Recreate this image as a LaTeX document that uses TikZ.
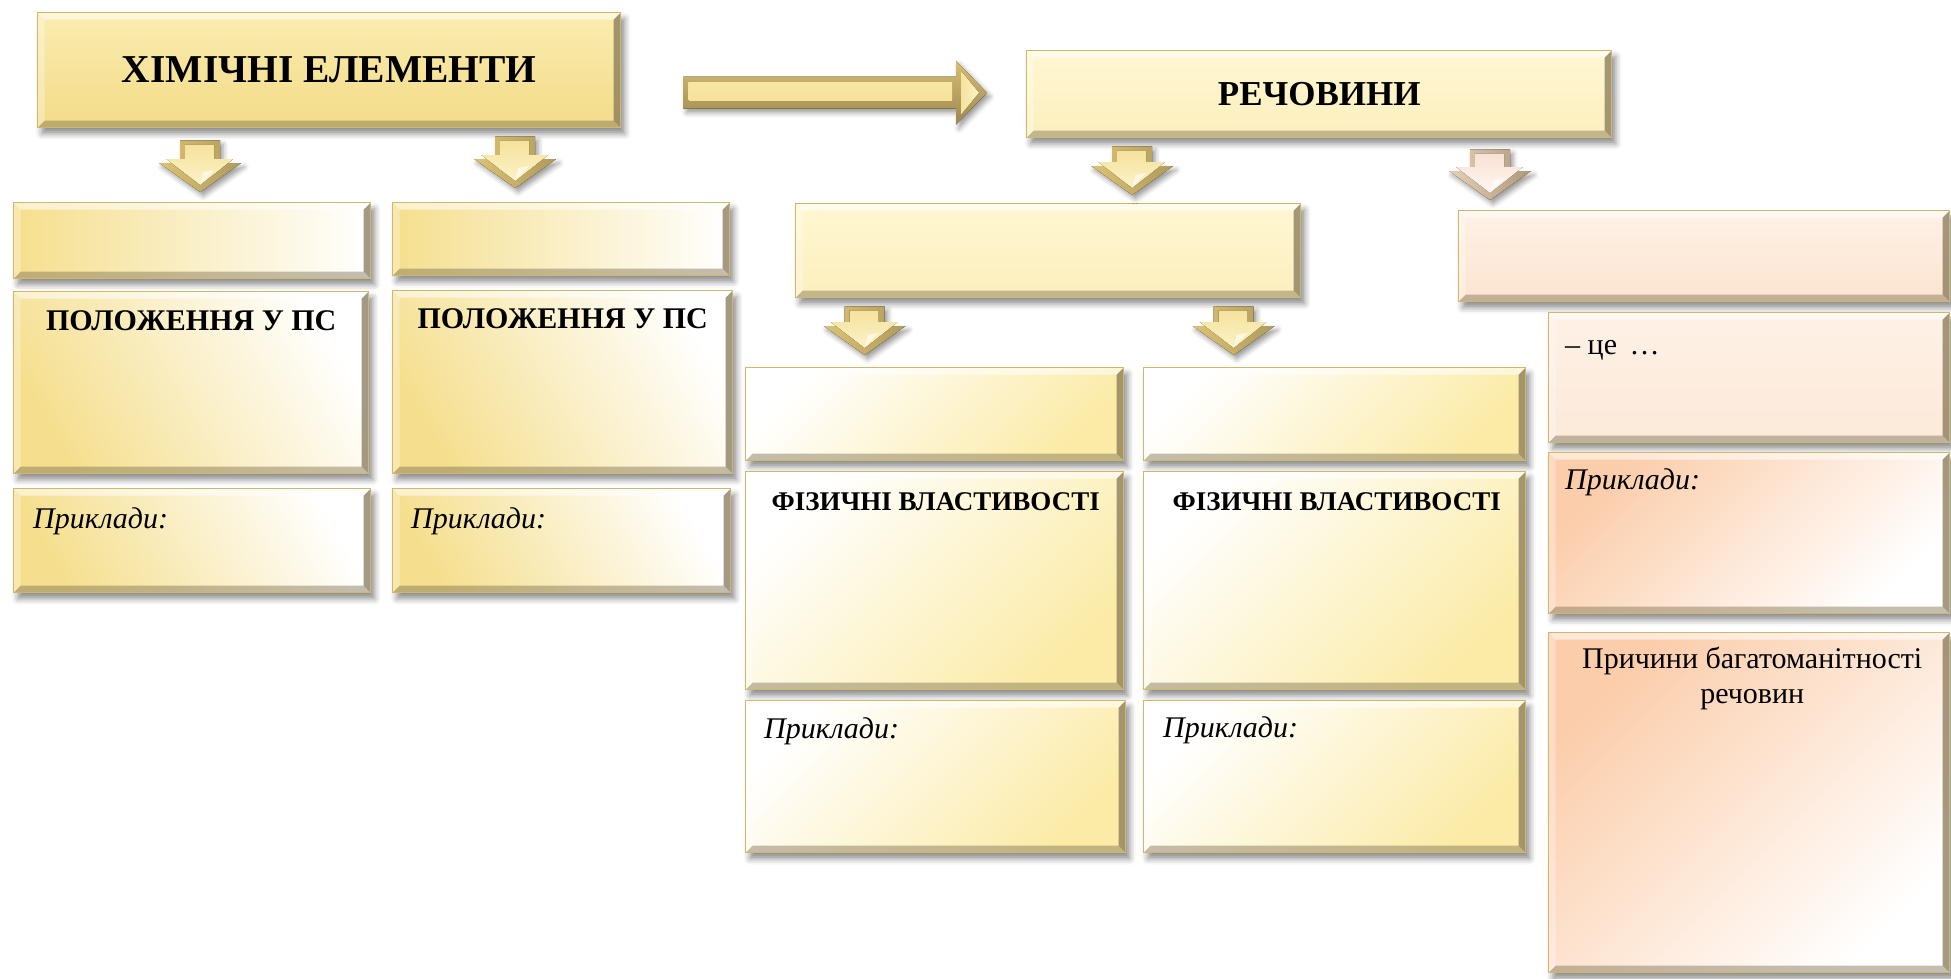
\documentclass[tikz,border=0pt]{standalone}
\usepackage{fontspec}
\setmainfont{Liberation Serif}
\usetikzlibrary{calc,shadows.blur}

\definecolor{gold}{HTML}{F5DF8E}
\definecolor{goldpale}{HTML}{FBEBA6}
\definecolor{xtop}{HTML}{FAEDB0}
\definecolor{xbot}{HTML}{F3DB88}
\definecolor{cream}{HTML}{FFF7D2}
\definecolor{creamdk}{HTML}{FCEFBE}
\definecolor{peach}{HTML}{FBCDAA}
\definecolor{peachlt}{HTML}{FEF1E6}
\definecolor{peachmd}{HTML}{FCE4D0}
\definecolor{peachf}{HTML}{FCE9D9}
\definecolor{edge}{HTML}{CFB76C}
\definecolor{bevdark}{HTML}{7E7050}
% arrow colours
\definecolor{rimA}{HTML}{DCC272}\definecolor{rimB}{HTML}{F4E097}\definecolor{rimC}{HTML}{B09A5C}
\definecolor{faceA}{HTML}{F5E29C}\definecolor{faceB}{HTML}{FCF2C8}
\definecolor{prA}{HTML}{E6D0B4}\definecolor{prB}{HTML}{F6E3D5}\definecolor{prC}{HTML}{AE9878}
\definecolor{pfA}{HTML}{F8E1D4}\definecolor{pfB}{HTML}{FFF7F1}
\definecolor{shA}{HTML}{D6BE74}\definecolor{shB}{HTML}{F8E6A4}\definecolor{shC}{HTML}{9E874E}

\tikzset{
  bevel/.style={path picture={
    \fill[white,opacity=.55] let \p1=(path picture bounding box.north west), \p2=(path picture bounding box.south east) in
      (\x1,\y1) -- (\x2,\y1) -- (\x2-7pt,\y1-7pt) -- (\x1+7pt,\y1-7pt) -- cycle;
    \fill[white,opacity=.3] let \p1=(path picture bounding box.north west), \p2=(path picture bounding box.south east) in
      (\x1,\y1) -- (\x1+7pt,\y1-7pt) -- (\x1+7pt,\y2+7pt) -- (\x1,\y2) -- cycle;
    \fill[bevdark,opacity=.45] let \p1=(path picture bounding box.north west), \p2=(path picture bounding box.south east) in
      (\x1,\y2) -- (\x1+7pt,\y2+7pt) -- (\x2-7pt,\y2+7pt) -- (\x2,\y2) -- cycle;
    \fill[bevdark,opacity=.7] let \p1=(path picture bounding box.north west), \p2=(path picture bounding box.south east) in
      (\x2,\y2) -- (\x2-7pt,\y2+7pt) -- (\x2-7pt,\y1-7pt) -- (\x2,\y1) -- cycle;
  }},
  panel/.style={rectangle, inner sep=0pt, anchor=north west, draw=edge, line width=1.4pt,
    blur shadow={shadow xshift=4pt, shadow yshift=-6pt, shadow blur radius=6pt, shadow opacity=45}, bevel},
  fillX/.style={top color=xtop, bottom color=xbot},
  fillC/.style={top color=cream, bottom color=creamdk},
  fillLR/.style={left color=gold, right color=white},
  fillBL/.style={top color=white, bottom color=gold, shading angle=-60},
  fillTL/.style={top color=white, bottom color=goldpale, shading angle=45},
  fillP/.style={top color=peachlt, bottom color=peachmd},
  fillPL/.style={top color=peachlt, bottom color=peachf},
  fillPD/.style={top color=peach, bottom color=white, shading angle=45},
  ttl/.style={font=\bfseries\fontsize{30}{35}\selectfont, inner sep=0pt, anchor=base},
  ttlb/.style={font=\bfseries\fontsize{27}{32}\selectfont, inner sep=0pt, anchor=base},
  txt/.style={font=\fontsize{30}{35}\selectfont, inner sep=0pt, anchor=base},
  ex/.style={font=\itshape\fontsize{30}{35}\selectfont, inner sep=0pt, anchor=base west},
  goldrim/.style={left color=rimA, middle color=rimB, right color=rimC},
  goldface/.style={top color=faceA, bottom color=faceB},
  peachrim/.style={left color=prA, middle color=prB, right color=prC},
  peachface/.style={top color=pfA, bottom color=pfB},
  ashadow/.style={blur shadow={shadow xshift=3pt, shadow yshift=-4pt, shadow blur radius=5pt, shadow opacity=40}},
}

% block arrow pointing down, from #1 (top centre) to #2 (tip)
\newcommand\blockarrowdown[4]{%
  \fill[#3, ashadow] let \p1=(#1), \p2=(#2) in
    (\x1-20pt,\y1) -- (\x1+20pt,\y1) -- (\x1+20pt,\y2+29pt) -- (\x1+41pt,\y2+29pt)
    -- (\x1,\y2) -- (\x1-41pt,\y2+29pt) -- (\x1-20pt,\y2+29pt) -- cycle;
  \fill[#4] let \p1=(#1), \p2=(#2) in
    (\x1-15pt,\y1-4pt) -- (\x1+14pt,\y1-4pt) -- (\x1+14pt,\y2+33pt) -- (\x1+33pt,\y2+33pt)
    -- (\x1,\y2+7pt) -- (\x1-34pt,\y2+33pt) -- (\x1-15pt,\y2+33pt) -- cycle;
  \fill[white,opacity=.6] let \p1=(#1), \p2=(#2) in
    (\x1,\y2+8pt) -- (\x1+14pt,\y2+22pt) -- (\x1+3pt,\y2+20pt) -- cycle;
}

\begin{document}
\begin{tikzpicture}[x=1pt,y=-1pt]
\useasboundingbox (0,0) rectangle (1951,979);
\clip (0,0) rectangle (1951,979);

% top row
\node[panel, fillX, minimum width=583pt, minimum height=115pt,
      font=\bfseries\fontsize{39.5}{45}\selectfont] (XIM) at (37,12) {ХІМІЧНІ ЕЛЕМЕНТИ};
\node[panel, fillC, minimum width=585pt, minimum height=87pt,
      font=\bfseries\fontsize{35}{40}\selectfont] (REC) at (1026,50) {РЕЧОВИНИ};

% left columns
\node[panel, fillLR, minimum width=357pt, minimum height=76pt] (A1) at (13,202) {};
\node[panel, fillBL, minimum width=355pt, minimum height=182pt] (A2) at (13,291) {};
\node[panel, fillBL, minimum width=357pt, minimum height=104pt] (A3) at (13,488) {};
\node[panel, fillLR, minimum width=337pt, minimum height=73pt] (B1) at (392,202) {};
\node[panel, fillBL, minimum width=340pt, minimum height=183pt] (B2) at (392,290) {};
\node[panel, fillBL, minimum width=338pt, minimum height=104pt] (B3) at (392,488) {};

% middle columns
\node[panel, fillC, minimum width=505pt, minimum height=94pt] (C0) at (795,203) {};
\node[panel, fillTL, minimum width=378pt, minimum height=93pt] (D1) at (745,367) {};
\node[panel, fillTL, minimum width=378pt, minimum height=218pt] (D2) at (745,471) {};
\node[panel, fillTL, minimum width=380pt, minimum height=152pt] (D3) at (745,700) {};
\node[panel, fillTL, minimum width=382pt, minimum height=93pt] (E1) at (1143,367) {};
\node[panel, fillTL, minimum width=382pt, minimum height=218pt] (E2) at (1143,471) {};
\node[panel, fillTL, minimum width=382pt, minimum height=152pt] (E3) at (1143,700) {};

% right column
\node[panel, fillP, minimum width=491pt, minimum height=91pt] (F0) at (1458,210) {};
\node[panel, fillPL, minimum width=401pt, minimum height=130pt] (F1) at (1548,312) {};
\node[panel, fillPD, minimum width=401pt, minimum height=161pt] (F2) at (1548,452) {};
\node[panel, fillPD, minimum width=401pt, minimum height=340pt] (F3) at (1548,632) {};

% labels
\node[ttl] (A2t) at ($(A2.north)+(0,39)$) {ПОЛОЖЕННЯ У ПС};
\node[ttl] (B2t) at ($(B2.north)+(0,38)$) {ПОЛОЖЕННЯ У ПС};
\node[ex] (A3t) at ($(A3.north west)+(20,40)$) {Приклади:};
\node[ex] (B3t) at ($(B3.north west)+(19,40)$) {Приклади:};
\node[ttlb] (D2t) at ($(D2.north)+(1,39)$) {ФІЗИЧНІ ВЛАСТИВОСТІ};
\node[ttlb] (E2t) at ($(E2.north)+(2,39)$) {ФІЗИЧНІ ВЛАСТИВОСТІ};
\node[ex] (D3t) at ($(D3.north west)+(19,38)$) {Приклади:};
\node[ex] (E3t) at ($(E3.north west)+(20,37)$) {Приклади:};
\node[txt, anchor=base west] (F1t) at ($(F1.north west)+(17,42)$) {– це \,…};
\node[ex] (F2t) at ($(F2.north west)+(17,37)$) {Приклади:};
\node[txt] (F3t) at ($(F3.north)+(3,36)$) {Причини багатоманітності};
\node[txt] (F3u) at ($(F3.north)+(3,71)$) {речовин};

% connectors
\coordinate (s1) at ($(XIM.south -| A1.north)+(8,12)$);
\coordinate (e1) at ($(A1.north)+(8,-10)$);
\coordinate (s2) at ($(XIM.south -| B1.north)+(-46,8)$);
\coordinate (e2) at ($(B1.north)+(-46,-14)$);
\coordinate (s3) at ($(REC.south -| C0.north)+(84,8)$);
\coordinate (e3) at ($(C0.north)+(84,-8)$);
\coordinate (s4) at ($(REC.south -| F0.north west)+(32,11)$);
\coordinate (e4) at ($(F0.north west)+(32,-10)$);
\coordinate (s5) at ($(C0.south -| D1.north)+(-70,8)$);
\coordinate (e5) at ($(D1.north)+(-70,-12)$);
\coordinate (s6) at ($(C0.south -| E1.north)+(-101,8)$);
\coordinate (e6) at ($(E1.north)+(-101,-12)$);

\blockarrowdown{s1}{e1}{goldrim}{goldface}
\blockarrowdown{s2}{e2}{goldrim}{goldface}
\blockarrowdown{s3}{e3}{goldrim}{goldface}
\blockarrowdown{s4}{e4}{peachrim}{peachface}
\blockarrowdown{s5}{e5}{goldrim}{goldface}
\blockarrowdown{s6}{e6}{goldrim}{goldface}

% horizontal arrow from the elements to the substances
\coordinate (hs) at ($(XIM.east |- REC.west)+(62,-1.5)$);
\coordinate (he) at ($(REC.west)+(-39,-1.5)$);
\fill[top color=shA, middle color=shB, bottom color=shC, ashadow] let \p1=(hs), \p2=(he) in
  (\x1,\y1+16pt) -- (\x2-31pt,\y1+16pt) -- (\x2-31pt,\y1+32pt) -- (\x2,\y1)
  -- (\x2-31pt,\y1-32pt) -- (\x2-31pt,\y1-16pt) -- (\x1,\y1-16pt) -- cycle;
\fill[top color=shB, bottom color=faceA] let \p1=(hs), \p2=(he) in
  (\x1+5pt,\y1+10pt) -- (\x2-35pt,\y1+10pt) -- (\x2-35pt,\y1-8pt) -- (\x1+5pt,\y1-8pt) -- cycle;
\fill[left color=faceA, right color=faceB] let \p1=(hs), \p2=(he) in
  (\x2-26pt,\y1+22pt) -- (\x2-8pt,\y1) -- (\x2-26pt,\y1-22pt) -- cycle;
\end{tikzpicture}
\end{document}
